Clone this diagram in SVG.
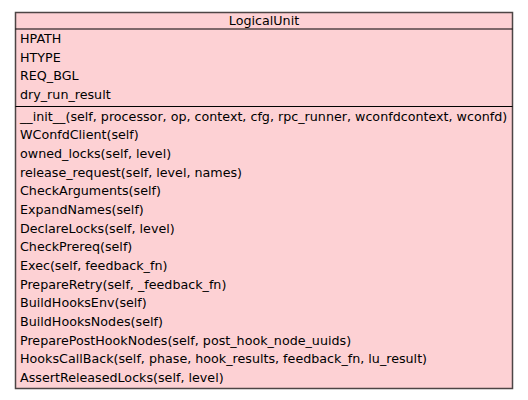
<svg xmlns="http://www.w3.org/2000/svg" width="528" height="400" viewBox="0 0 528 400">
<style>
text{font-family:"DejaVu Sans",sans-serif;font-size:12.7px;fill:#000}
.box{fill:#fdd1d4;stroke:#4d4545;stroke-width:1.5}
.sep{stroke:#000;stroke-width:1.2}
</style>
<rect x="0" y="0" width="528" height="400" fill="#ffffff"/>
<g id="LogicalUnit">
<rect class="box" x="15.5" y="12.5" width="497" height="376"/>
<line class="sep" x1="15.5" y1="29" x2="512.5" y2="29"/>
<line class="sep" x1="15.5" y1="106.5" x2="512.5" y2="106.5"/>
<text x="264" y="25" text-anchor="middle">LogicalUnit</text>
<text x="20" y="43">HPATH</text>
<text x="20" y="61.7">HTYPE</text>
<text x="20" y="80.3">REQ_BGL</text>
<text x="20" y="99">dry_run_result</text>
<text x="20" y="120.7">__init__(self, processor, op, context, cfg, rpc_runner, wconfdcontext, wconfd)</text>
<text x="20" y="139.3">WConfdClient(self)</text>
<text x="20" y="158">owned_locks(self, level)</text>
<text x="20" y="176.7">release_request(self, level, names)</text>
<text x="20" y="195.3">CheckArguments(self)</text>
<text x="20" y="214">ExpandNames(self)</text>
<text x="20" y="232.7">DeclareLocks(self, level)</text>
<text x="20" y="251.3">CheckPrereq(self)</text>
<text x="20" y="270">Exec(self, feedback_fn)</text>
<text x="20" y="288.7">PrepareRetry(self, _feedback_fn)</text>
<text x="20" y="307.3">BuildHooksEnv(self)</text>
<text x="20" y="326">BuildHooksNodes(self)</text>
<text x="20" y="344.7">PreparePostHookNodes(self, post_hook_node_uuids)</text>
<text x="20" y="363.3">HooksCallBack(self, phase, hook_results, feedback_fn, lu_result)</text>
<text x="20" y="382">AssertReleasedLocks(self, level)</text>
</g>
</svg>
